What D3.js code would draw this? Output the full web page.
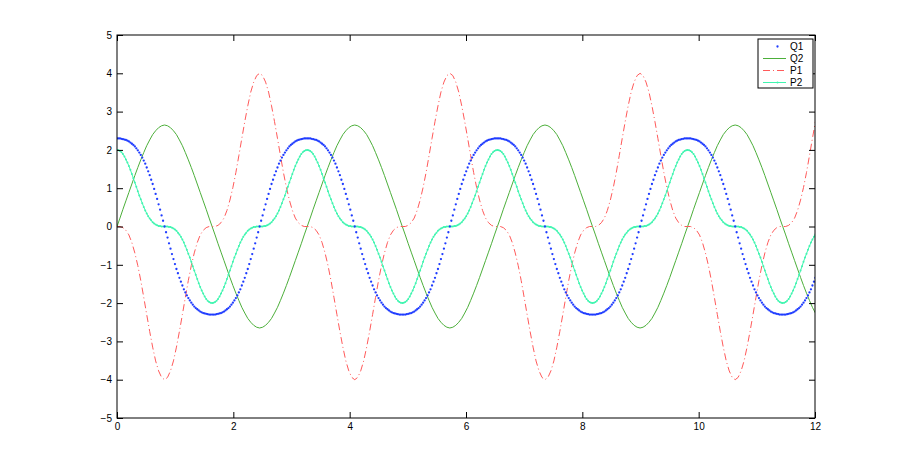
<!DOCTYPE html>
<html>
<head>
<meta charset="utf-8">
<script src="https://cdn.jsdelivr.net/npm/d3@7"></script>
<style>
body { margin: 0; background: #fff; }
text { font-family: "Liberation Sans", Arial, sans-serif; }
</style>
</head>
<body>
<div id="chart"></div>
<script>
var width = 900, height = 471;

// sample step of the solver output (128 samples per ~3.27 period for Q1/P2, 64 for Q2/P1)
var dtFine = 3.27 / 128,
    dtCoarse = 3.27 / 64;

// Q1, dotted blue
var q1 = [
2.30,2.30,2.30,2.29,2.28,2.27,2.26,2.24,2.22,2.19,2.16,2.13,2.09,2.04,1.99,1.93,1.87,1.80,1.72,1.64,1.54,1.44,1.34,1.22,1.11,0.98,0.85,0.72,0.58,0.44,0.29,0.15,0,
-0.15,-0.29,-0.44,-0.58,-0.72,-0.85,-0.98,-1.11,-1.22,-1.34,-1.44,-1.54,-1.64,-1.72,-1.80,-1.87,-1.93,-1.99,-2.04,-2.09,-2.13,-2.16,-2.19,-2.22,-2.24,-2.26,-2.27,-2.28,-2.29,-2.30,-2.30,-2.30,
-2.30,-2.30,-2.29,-2.28,-2.27,-2.26,-2.24,-2.22,-2.19,-2.16,-2.13,-2.09,-2.04,-1.99,-1.93,-1.87,-1.80,-1.72,-1.64,-1.54,-1.44,-1.34,-1.22,-1.11,-0.98,-0.85,-0.72,-0.58,-0.44,-0.29,-0.15,0,
0.15,0.29,0.44,0.58,0.72,0.85,0.98,1.11,1.22,1.34,1.44,1.54,1.64,1.72,1.80,1.87,1.93,1.99,2.04,2.09,2.13,2.16,2.19,2.22,2.24,2.26,2.27,2.28,2.29,2.30,2.30,
2.30,2.30,2.30,2.29,2.28,2.27,2.26,2.24,2.22,2.19,2.16,2.13,2.09,2.04,1.99,1.93,1.87,1.80,1.72,1.64,1.54,1.44,1.34,1.22,1.11,0.98,0.85,0.72,0.58,0.44,0.29,0.15,0,
-0.15,-0.29,-0.44,-0.58,-0.72,-0.85,-0.98,-1.11,-1.22,-1.34,-1.44,-1.54,-1.64,-1.72,-1.80,-1.87,-1.93,-1.99,-2.04,-2.09,-2.13,-2.16,-2.19,-2.22,-2.24,-2.26,-2.27,-2.28,-2.29,-2.30,-2.30,-2.30,
-2.30,-2.30,-2.29,-2.28,-2.27,-2.26,-2.24,-2.22,-2.19,-2.16,-2.13,-2.09,-2.04,-1.99,-1.93,-1.87,-1.80,-1.72,-1.64,-1.54,-1.44,-1.34,-1.22,-1.11,-0.98,-0.85,-0.72,-0.58,-0.44,-0.29,-0.15,0,
0.15,0.29,0.44,0.58,0.72,0.85,0.98,1.11,1.22,1.34,1.44,1.54,1.64,1.72,1.80,1.87,1.93,1.99,2.04,2.09,2.13,2.16,2.19,2.22,2.24,2.26,2.27,2.28,2.29,2.30,2.30,
2.30,2.30,2.30,2.29,2.28,2.27,2.26,2.24,2.22,2.19,2.16,2.13,2.09,2.04,1.99,1.93,1.87,1.80,1.72,1.64,1.54,1.44,1.34,1.22,1.11,0.98,0.85,0.72,0.58,0.44,0.29,0.15,0,
-0.15,-0.29,-0.44,-0.58,-0.72,-0.85,-0.98,-1.11,-1.22,-1.34,-1.44,-1.54,-1.64,-1.72,-1.80,-1.87,-1.93,-1.99,-2.04,-2.09,-2.13,-2.16,-2.19,-2.22,-2.24,-2.26,-2.27,-2.28,-2.29,-2.30,-2.30,-2.30,
-2.30,-2.30,-2.29,-2.28,-2.27,-2.26,-2.24,-2.22,-2.19,-2.16,-2.13,-2.09,-2.04,-1.99,-1.93,-1.87,-1.80,-1.72,-1.64,-1.54,-1.44,-1.34,-1.22,-1.11,-0.98,-0.85,-0.72,-0.58,-0.44,-0.29,-0.15,0,
0.15,0.29,0.44,0.58,0.72,0.85,0.98,1.11,1.22,1.34,1.44,1.54,1.64,1.72,1.80,1.87,1.93,1.99,2.04,2.09,2.13,2.16,2.19,2.22,2.24,2.26,2.27,2.28,2.29,2.30,2.30,
2.30,2.30,2.30,2.29,2.28,2.27,2.26,2.24,2.22,2.19,2.16,2.13,2.09,2.04,1.99,1.93,1.87,1.80,1.72,1.64,1.54,1.44,1.34,1.22,1.11,0.98,0.85,0.72,0.58,0.44,0.29,0.15,0,
-0.15,-0.29,-0.44,-0.58,-0.72,-0.85,-0.98,-1.11,-1.22,-1.34,-1.44,-1.54,-1.64,-1.72,-1.80,-1.87,-1.93,-1.99,-2.04,-2.09,-2.13,-2.16,-2.19,-2.22,-2.24,-2.26,-2.27,-2.28,-2.29,-2.30,-2.30,-2.30,
-2.30,-2.30,-2.29,-2.28,-2.27,-2.26,-2.24,-2.22,-2.19,-2.16,-2.13,-2.09,-2.04,-1.99,-1.93,-1.87,-1.80,-1.72,-1.64,-1.54,-1.44,-1.34
];

// P2, aquamarine line with point markers
var p2 = [
2.00,1.99,1.97,1.94,1.89,1.83,1.75,1.67,1.58,1.48,1.37,1.26,1.15,1.04,0.92,0.81,0.71,0.61,0.51,0.42,0.34,0.27,0.21,0.16,0.11,0.08,0.05,0.03,0.01,0.01,0,0,0,
0,0,-0.01,-0.01,-0.03,-0.05,-0.08,-0.11,-0.16,-0.21,-0.27,-0.34,-0.42,-0.51,-0.61,-0.71,-0.81,-0.92,-1.04,-1.15,-1.26,-1.37,-1.48,-1.58,-1.67,-1.75,-1.83,-1.89,-1.94,-1.97,-1.99,-2.00,
-1.99,-1.97,-1.94,-1.89,-1.83,-1.75,-1.67,-1.58,-1.48,-1.37,-1.26,-1.15,-1.04,-0.92,-0.81,-0.71,-0.61,-0.51,-0.42,-0.34,-0.27,-0.21,-0.16,-0.11,-0.08,-0.05,-0.03,-0.01,-0.01,0,0,0,
0,0,0.01,0.01,0.03,0.05,0.08,0.11,0.16,0.21,0.27,0.34,0.42,0.51,0.61,0.71,0.81,0.92,1.04,1.15,1.26,1.37,1.48,1.58,1.67,1.75,1.83,1.89,1.94,1.97,1.99,
2.00,1.99,1.97,1.94,1.89,1.83,1.75,1.67,1.58,1.48,1.37,1.26,1.15,1.04,0.92,0.81,0.71,0.61,0.51,0.42,0.34,0.27,0.21,0.16,0.11,0.08,0.05,0.03,0.01,0.01,0,0,0,
0,0,-0.01,-0.01,-0.03,-0.05,-0.08,-0.11,-0.16,-0.21,-0.27,-0.34,-0.42,-0.51,-0.61,-0.71,-0.81,-0.92,-1.04,-1.15,-1.26,-1.37,-1.48,-1.58,-1.67,-1.75,-1.83,-1.89,-1.94,-1.97,-1.99,-2.00,
-1.99,-1.97,-1.94,-1.89,-1.83,-1.75,-1.67,-1.58,-1.48,-1.37,-1.26,-1.15,-1.04,-0.92,-0.81,-0.71,-0.61,-0.51,-0.42,-0.34,-0.27,-0.21,-0.16,-0.11,-0.08,-0.05,-0.03,-0.01,-0.01,0,0,0,
0,0,0.01,0.01,0.03,0.05,0.08,0.11,0.16,0.21,0.27,0.34,0.42,0.51,0.61,0.71,0.81,0.92,1.04,1.15,1.26,1.37,1.48,1.58,1.67,1.75,1.83,1.89,1.94,1.97,1.99,
2.00,1.99,1.97,1.94,1.89,1.83,1.75,1.67,1.58,1.48,1.37,1.26,1.15,1.04,0.92,0.81,0.71,0.61,0.51,0.42,0.34,0.27,0.21,0.16,0.11,0.08,0.05,0.03,0.01,0.01,0,0,0,
0,0,-0.01,-0.01,-0.03,-0.05,-0.08,-0.11,-0.16,-0.21,-0.27,-0.34,-0.42,-0.51,-0.61,-0.71,-0.81,-0.92,-1.04,-1.15,-1.26,-1.37,-1.48,-1.58,-1.67,-1.75,-1.83,-1.89,-1.94,-1.97,-1.99,-2.00,
-1.99,-1.97,-1.94,-1.89,-1.83,-1.75,-1.67,-1.58,-1.48,-1.37,-1.26,-1.15,-1.04,-0.92,-0.81,-0.71,-0.61,-0.51,-0.42,-0.34,-0.27,-0.21,-0.16,-0.11,-0.08,-0.05,-0.03,-0.01,-0.01,0,0,0,
0,0,0.01,0.01,0.03,0.05,0.08,0.11,0.16,0.21,0.27,0.34,0.42,0.51,0.61,0.71,0.81,0.92,1.04,1.15,1.26,1.37,1.48,1.58,1.67,1.75,1.83,1.89,1.94,1.97,1.99,
2.00,1.99,1.97,1.94,1.89,1.83,1.75,1.67,1.58,1.48,1.37,1.26,1.15,1.04,0.92,0.81,0.71,0.61,0.51,0.42,0.34,0.27,0.21,0.16,0.11,0.08,0.05,0.03,0.01,0.01,0,0,0,
0,0,-0.01,-0.01,-0.03,-0.05,-0.08,-0.11,-0.16,-0.21,-0.27,-0.34,-0.42,-0.51,-0.61,-0.71,-0.81,-0.92,-1.04,-1.15,-1.26,-1.37,-1.48,-1.58,-1.67,-1.75,-1.83,-1.89,-1.94,-1.97,-1.99,-2.00,
-1.99,-1.97,-1.94,-1.89,-1.83,-1.75,-1.67,-1.58,-1.48,-1.37,-1.26,-1.15,-1.04,-0.92,-0.81,-0.71,-0.61,-0.51,-0.42,-0.34,-0.27,-0.21
];

// Q2, solid green
var q2 = [
0,0.22,0.45,0.67,0.89,1.11,1.33,1.54,1.74,1.93,2.11,2.26,2.40,2.50,2.58,2.63,2.65,2.63,2.58,2.50,2.40,2.26,2.11,1.93,1.74,1.54,1.33,1.11,0.89,0.67,0.45,0.22,0,
-0.22,-0.45,-0.67,-0.89,-1.11,-1.33,-1.54,-1.74,-1.93,-2.11,-2.26,-2.40,-2.50,-2.58,-2.63,-2.65,-2.63,-2.58,-2.50,-2.40,-2.26,-2.11,-1.93,-1.74,-1.54,-1.33,-1.11,-0.89,-0.67,-0.45,-0.22,
0,0.22,0.45,0.67,0.89,1.11,1.33,1.54,1.74,1.93,2.11,2.26,2.40,2.50,2.58,2.63,2.65,2.63,2.58,2.50,2.40,2.26,2.11,1.93,1.74,1.54,1.33,1.11,0.89,0.67,0.45,0.22,0,
-0.22,-0.45,-0.67,-0.89,-1.11,-1.33,-1.54,-1.74,-1.93,-2.11,-2.26,-2.40,-2.50,-2.58,-2.63,-2.65,-2.63,-2.58,-2.50,-2.40,-2.26,-2.11,-1.93,-1.74,-1.54,-1.33,-1.11,-0.89,-0.67,-0.45,-0.22,
0,0.22,0.45,0.67,0.89,1.11,1.33,1.54,1.74,1.93,2.11,2.26,2.40,2.50,2.58,2.63,2.65,2.63,2.58,2.50,2.40,2.26,2.11,1.93,1.74,1.54,1.33,1.11,0.89,0.67,0.45,0.22,0,
-0.22,-0.45,-0.67,-0.89,-1.11,-1.33,-1.54,-1.74,-1.93,-2.11,-2.26,-2.40,-2.50,-2.58,-2.63,-2.65,-2.63,-2.58,-2.50,-2.40,-2.26,-2.11,-1.93,-1.74,-1.54,-1.33,-1.11,-0.89,-0.67,-0.45,-0.22,
0,0.22,0.45,0.67,0.89,1.11,1.33,1.54,1.74,1.93,2.11,2.26,2.40,2.50,2.58,2.63,2.65,2.63,2.58,2.50,2.40,2.26,2.11,1.93,1.74,1.54,1.33,1.11,0.89,0.67,0.45,0.22,0,
-0.22,-0.45,-0.67,-0.89,-1.11,-1.33,-1.54,-1.74,-1.93,-2.11,-2.26
];

// P1, red dash-dot
var p1 = [
0,0.00,-0.03,-0.10,-0.22,-0.42,-0.69,-1.02,-1.41,-1.85,-2.30,-2.74,-3.15,-3.51,-3.77,-3.94,-4.00,-3.94,-3.77,-3.51,-3.15,-2.74,-2.30,-1.85,-1.41,-1.02,-0.69,-0.42,-0.22,-0.10,-0.03,0.00,0,
0.00,0.03,0.10,0.22,0.42,0.69,1.02,1.41,1.85,2.30,2.74,3.15,3.51,3.77,3.94,4.00,3.94,3.77,3.51,3.15,2.74,2.30,1.85,1.41,1.02,0.69,0.42,0.22,0.10,0.03,0.00,
0,0.00,-0.03,-0.10,-0.22,-0.42,-0.69,-1.02,-1.41,-1.85,-2.30,-2.74,-3.15,-3.51,-3.77,-3.94,-4.00,-3.94,-3.77,-3.51,-3.15,-2.74,-2.30,-1.85,-1.41,-1.02,-0.69,-0.42,-0.22,-0.10,-0.03,0.00,0,
0.00,0.03,0.10,0.22,0.42,0.69,1.02,1.41,1.85,2.30,2.74,3.15,3.51,3.77,3.94,4.00,3.94,3.77,3.51,3.15,2.74,2.30,1.85,1.41,1.02,0.69,0.42,0.22,0.10,0.03,0.00,
0,0.00,-0.03,-0.10,-0.22,-0.42,-0.69,-1.02,-1.41,-1.85,-2.30,-2.74,-3.15,-3.51,-3.77,-3.94,-4.00,-3.94,-3.77,-3.51,-3.15,-2.74,-2.30,-1.85,-1.41,-1.02,-0.69,-0.42,-0.22,-0.10,-0.03,0.00,0,
0.00,0.03,0.10,0.22,0.42,0.69,1.02,1.41,1.85,2.30,2.74,3.15,3.51,3.77,3.94,4.00,3.94,3.77,3.51,3.15,2.74,2.30,1.85,1.41,1.02,0.69,0.42,0.22,0.10,0.03,0.00,
0,0.00,-0.03,-0.10,-0.22,-0.42,-0.69,-1.02,-1.41,-1.85,-2.30,-2.74,-3.15,-3.51,-3.77,-3.94,-4.00,-3.94,-3.77,-3.51,-3.15,-2.74,-2.30,-1.85,-1.41,-1.02,-0.69,-0.42,-0.22,-0.10,-0.03,0.00,0,
0.00,0.03,0.10,0.22,0.42,0.69,1.02,1.41,1.85,2.30,2.74
];

var xTicks = [0, 2, 4, 6, 8, 10, 12];
var yTicks = [-5, -4, -3, -2, -1, 0, 1, 2, 3, 4, 5];
var names = ["Q1", "Q2", "P1", "P2"];

var colQ1 = "#1f3cff", colQ2 = "#4caf3a", colP1 = "#ff5a5a", colP2 = "#40f5b0";

var svg = d3.select("#chart").append("svg")
    .attr("width", width)
    .attr("height", height);

var x = d3.scaleLinear().domain([0, 12]).range([117, 815]);
var y = d3.scaleLinear().domain([-5, 5]).range([418, 35]);

svg.append("clipPath").attr("id", "clip")
  .append("rect")
    .attr("x", 117).attr("y", 35)
    .attr("width", 698).attr("height", 383);

var plot = svg.append("g").attr("clip-path", "url(#clip)");

function fine(v, i) { return {t: i * dtFine, v: v}; }
function coarse(v, i) { return {t: i * dtCoarse, v: v}; }

var line = d3.line()
    .x(function(d) { return x(d.t); })
    .y(function(d) { return y(d.v); });

// Q2
plot.append("path")
    .datum(q2.map(coarse))
    .attr("d", line)
    .attr("fill", "none")
    .attr("stroke", colQ2)
    .attr("stroke-width", 1);

// P1
plot.append("path")
    .datum(p1.map(coarse))
    .attr("d", line)
    .attr("fill", "none")
    .attr("stroke", colP1)
    .attr("stroke-width", 1)
    .attr("stroke-dasharray", "7,3,1,3");

// P2 line + markers
plot.append("path")
    .datum(p2.map(fine))
    .attr("d", line)
    .attr("fill", "none")
    .attr("stroke", colP2)
    .attr("stroke-width", 1);
plot.selectAll("circle.p2")
    .data(p2.map(fine))
    .enter().append("circle")
    .attr("class", "p2")
    .attr("cx", function(d) { return x(d.t); })
    .attr("cy", function(d) { return y(d.v); })
    .attr("r", 1)
    .attr("fill", colP2);

// Q1 dots
plot.selectAll("circle.q1")
    .data(q1.map(fine))
    .enter().append("circle")
    .attr("class", "q1")
    .attr("cx", function(d) { return x(d.t); })
    .attr("cy", function(d) { return y(d.v); })
    .attr("r", 1.15)
    .attr("fill", colQ1);

// axes, matlab style: inward ticks on all four sides
var axB = svg.append("g").attr("transform", "translate(0,418)")
    .call(d3.axisBottom(x).tickValues(xTicks).tickSizeInner(-6).tickSizeOuter(0).tickPadding(5));
var axT = svg.append("g").attr("transform", "translate(0,35)")
    .call(d3.axisTop(x).tickValues(xTicks).tickSizeInner(-6).tickSizeOuter(0).tickFormat(""));
var axL = svg.append("g").attr("transform", "translate(117,0)")
    .call(d3.axisLeft(y).tickValues(yTicks).tickSizeInner(-6).tickSizeOuter(0).tickPadding(5));
var axR = svg.append("g").attr("transform", "translate(815,0)")
    .call(d3.axisRight(y).tickValues(yTicks).tickSizeInner(-6).tickSizeOuter(0).tickFormat(""));

svg.selectAll(".domain").remove();
svg.selectAll(".tick line").attr("stroke", "#000");
svg.selectAll(".tick text").attr("fill", "#000").style("font-size", "10px")
    .style("font-family", "'Liberation Sans', Arial, sans-serif");

svg.append("rect")
    .attr("x", 117).attr("y", 35)
    .attr("width", 698).attr("height", 383)
    .attr("fill", "none")
    .attr("stroke", "#000")
    .attr("stroke-width", 1);

// legend
var lg = svg.append("g").attr("transform", "translate(758,39)");
lg.append("rect")
    .attr("width", 55).attr("height", 49)
    .attr("fill", "#fff")
    .attr("stroke", "#000");

var rows = lg.selectAll("g.row")
    .data(names)
    .enter().append("g")
    .attr("class", "row")
    .attr("transform", function(d, i) { return "translate(0," + (7.5 + i * 12) + ")"; });

rows.append("text")
    .attr("x", 32)
    .attr("y", 0)
    .attr("dy", "0.35em")
    .style("font-size", "10px")
    .text(function(d) { return d; });

rows.filter(function(d) { return d !== "Q1"; })
  .append("line")
    .attr("x1", 5).attr("x2", 28)
    .attr("stroke", function(d) { return d === "Q2" ? colQ2 : d === "P1" ? colP1 : colP2; })
    .attr("stroke-dasharray", function(d) { return d === "P1" ? "7,3,1,3" : null; });

rows.filter(function(d) { return d === "Q1" || d === "P2"; })
  .append("circle")
    .attr("cx", 19.5)
    .attr("r", function(d) { return d === "Q1" ? 1.15 : 1; })
    .attr("fill", function(d) { return d === "Q1" ? colQ1 : colP2; });
</script>
</body>
</html>
